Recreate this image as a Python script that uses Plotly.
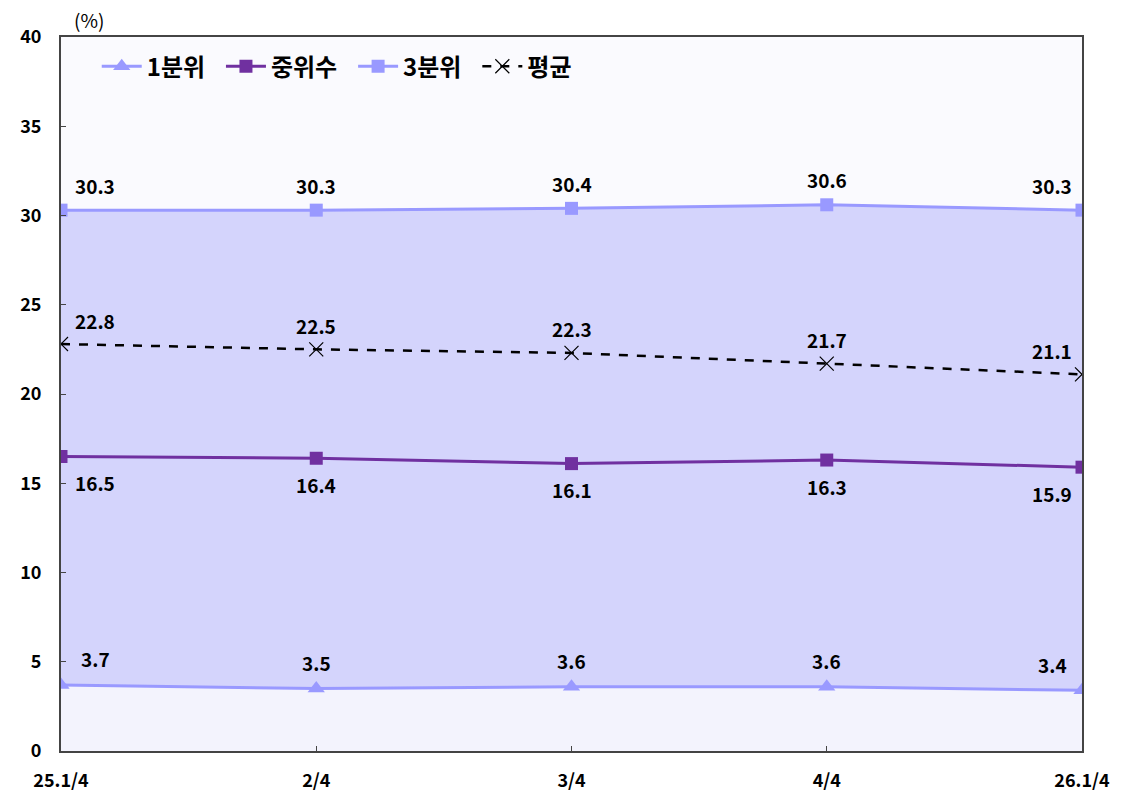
import plotly.graph_objects as go

categories = ["25.1/4", "2/4", "3/4", "4/4", "26.1/4"]
q1 = [3.7, 3.5, 3.6, 3.6, 3.4]
median = [16.5, 16.4, 16.1, 16.3, 15.9]
q3 = [30.3, 30.3, 30.4, 30.6, 30.3]
mean = [22.8, 22.5, 22.3, 21.7, 21.1]
y_ticks = [0, 5, 10, 15, 20, 25, 30, 35, 40]

x = list(range(len(categories)))
FONT = "Noto Sans CJK KR"
LIGHT = "#9999FF"
PURPLE = "#7030A0"
GAP = "\u00a0\u00a0"

fig = go.Figure()
# fills (no legend): area under 1st quartile, and band between 1st and 3rd quartile
fig.add_trace(go.Scatter(x=x + x[::-1], y=q1 + [0] * len(x), mode="none", fill="toself",
                         fillcolor="#F3F3FD", showlegend=False, hoverinfo="skip"))
fig.add_trace(go.Scatter(x=x + x[::-1], y=q3 + q1[::-1], mode="none", fill="toself",
                         fillcolor="#D4D4FC", showlegend=False, hoverinfo="skip"))
# lines
fig.add_trace(go.Scatter(x=x, y=q1, name="1분위" + GAP, mode="lines+markers",
                         line=dict(color=LIGHT, width=3),
                         marker=dict(symbol="triangle-up", size=15, color=LIGHT)))
fig.add_trace(go.Scatter(x=x, y=median, name="중위수" + GAP, mode="lines+markers",
                         line=dict(color=PURPLE, width=3),
                         marker=dict(symbol="square", size=13, color=PURPLE)))
fig.add_trace(go.Scatter(x=x, y=q3, name="3분위" + GAP, mode="lines+markers",
                         line=dict(color=LIGHT, width=3),
                         marker=dict(symbol="square", size=13, color=LIGHT)))
fig.add_trace(go.Scatter(x=x, y=mean, name="평균", mode="lines+markers",
                         line=dict(color="black", width=2.5, dash="dash"),
                         marker=dict(symbol="x-thin", size=14, color="black",
                                     line=dict(color="black", width=1.2))))

def add_labels(vals, yshift):
    n = len(vals)
    for i, v in enumerate(vals):
        if i == 0:
            xs = 34
        elif i == n - 1:
            xs = -30
        else:
            xs = 0
        fig.add_annotation(x=i, y=v, text=f"{v:.1f}", showarrow=False,
                           xshift=xs, yshift=yshift,
                           font=dict(family=FONT, size=19, color="black", weight="bold"))

add_labels(q3, 25)
add_labels(mean, 24)
add_labels(median, -26)
add_labels(q1, 26)

fig.add_annotation(x=0, y=1, xref="paper", yref="paper", text="(%)", showarrow=False,
                   xanchor="center", yanchor="bottom", xshift=28, yshift=2,
                   font=dict(family=FONT, size=19, color="black"))

fig.update_layout(
    width=1123, height=804,
    margin=dict(l=61, r=41, t=37, b=47),
    paper_bgcolor="white", plot_bgcolor="#FAFAFE",
    font=dict(family=FONT, size=18, color="black"),
    showlegend=True,
    legend=dict(orientation="h", x=0.035, y=0.99, xanchor="left", yanchor="top",
                traceorder="normal",
                bgcolor="rgba(0,0,0,0)", font=dict(size=24, weight="bold"),
                itemwidth=40, tracegroupgap=0),
)
fig.update_xaxes(range=[0, 4], tickvals=x, ticktext=categories, showgrid=False,
                 zeroline=False, showline=True, linecolor="#444", linewidth=2,
                 mirror=True, ticks="inside", ticklen=5, tickcolor="#444",
                 tickfont=dict(size=18, weight="bold"), ticklabelstandoff=12)
fig.update_yaxes(range=[0, 40], tickvals=y_ticks, showgrid=False, zeroline=False,
                 showline=True, linecolor="#444", linewidth=2, mirror=True,
                 ticks="inside", ticklen=5, tickcolor="#444",
                 tickfont=dict(size=18, weight="bold"), ticklabelstandoff=14)

fig.write_html("out.html")
